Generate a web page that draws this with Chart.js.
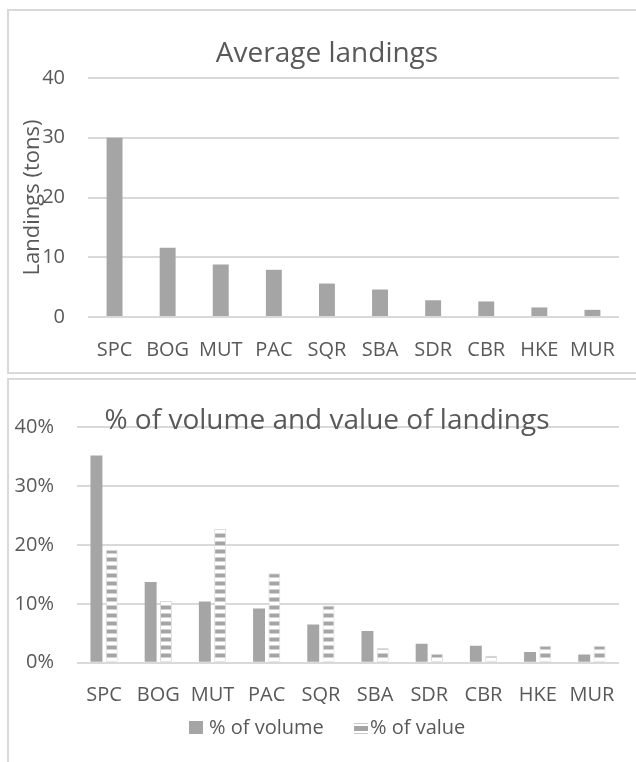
<!DOCTYPE html>
<html>
<head>
<meta charset="utf-8">
<script src="https://cdn.jsdelivr.net/npm/chart.js@4.4.1/dist/chart.umd.min.js"></script>
<style>
html,body{margin:0;padding:0;width:636px;height:762px;overflow:hidden;background:#fff;font-family:"Open Sans",sans-serif;}
.frame{position:absolute;box-sizing:border-box;border-left:2px solid #d9d9d9;border-top:2px solid #d9d9d9;}
#f1{left:7px;top:9px;width:660px;height:365px;border-bottom:2px solid #d9d9d9;}
#f2{left:7px;top:378px;width:660px;height:420px;}
canvas{position:absolute;left:0;}
#c1{top:0;}
#c2{top:372px;}
.lg{position:absolute;color:#595959;font:20px/28px "Open Sans";white-space:nowrap;}
.sw{position:absolute;}
#sw1{left:189px;top:721px;width:14px;height:13px;background:#a5a5a5;}
#sw2{left:354px;top:722px;width:14px;height:13px;
 background:linear-gradient(to bottom,#fff 0,#fff 1px,#c8c8c8 1px,#c8c8c8 2.5px,#fff 2.5px,#fff 4.5px,#a5a5a5 4.5px,#a5a5a5 9.5px,#fff 9.5px,#fff 11px,#c8c8c8 11px,#c8c8c8 12.5px,#fff 12.5px);}
#lt1{left:209px;top:713px;}
#lt2{left:370px;top:713px;}
</style>
</head>
<body>
<div class="frame" id="f1"></div>
<div class="frame" id="f2"></div>
<canvas id="c1" width="654" height="372"></canvas>
<canvas id="c2" width="654" height="390"></canvas>
<div class="sw" id="sw1"></div><div class="lg" id="lt1"></div>
<div class="sw" id="sw2"></div><div class="lg" id="lt2"></div>
<script>
// ---- data ----
const categories = ['SPC','BOG','MUT','PAC','SQR','SBA','SDR','CBR','HKE','MUR'];
const avgLandings = [30.0, 11.6, 8.8, 7.9, 5.6, 4.6, 2.8, 2.6, 1.6, 1.2];
const pctVolume = [35.2, 13.7, 10.4, 9.2, 6.5, 5.4, 3.2, 2.9, 1.8, 1.4];
const pctValue = [19.2, 10.5, 22.7, 15.2, 9.7, 2.5, 1.5, 1.2, 2.9, 2.9];
const landingsTicks = [0, 10, 20, 30, 40];
const pctTicks = [0, 10, 20, 30, 40];
const seriesNames = ['% of volume', '% of value'];
const title1 = 'Average landings';
const title2 = '% of volume and value of landings';
const yTitle1 = 'Landings (tons)';

const TXT = '#595959', GRID = '#d9d9d9', BAR = '#a5a5a5';
const FONT = 'Open Sans';

document.getElementById('lt1').textContent = seriesNames[0];
document.getElementById('lt2').textContent = seriesNames[1];

const fixedTitle = {
  id: 'fixedTitle',
  afterDraw(chart, args, o) {
    const ctx = chart.ctx;
    ctx.save();
    ctx.font = o.font;
    ctx.fillStyle = o.color;
    ctx.textAlign = 'center';
    ctx.textBaseline = 'alphabetic';
    ctx.fillText(o.text, o.x, o.y);
    ctx.restore();
  }
};

function stripePattern(ctx) {
  const c = document.createElement('canvas');
  c.width = 8; c.height = 8;
  const g = c.getContext('2d');
  g.fillStyle = '#fff'; g.fillRect(0, 0, 8, 8);
  g.fillStyle = BAR; g.fillRect(0, 1.5, 8, 4);
  return ctx.createPattern(c, 'repeat');
}

const tickFont = {family: FONT, size: 20};

// ---- chart 1 ----
new Chart(document.getElementById('c1'), {
  type: 'bar',
  data: {
    labels: categories,
    datasets: [{label: title1, data: avgLandings, backgroundColor: BAR, barPercentage: 0.3, categoryPercentage: 1}]
  },
  options: {
    responsive: false, animation: false,
    layout: {padding: {top: 78, left: 0, right: 0, bottom: 0}},
    plugins: {
      legend: {display: false}, tooltip: {enabled: false},
      fixedTitle: {text: title1, x: 327, y: 61.5, font: '28px "Open Sans"', color: TXT}
    },
    scales: {
      x: {
        grid: {display: false}, border: {display: false},
        ticks: {color: TXT, font: tickFont, padding: 13, maxRotation: 0, autoSkip: false},
        afterFit(s) { s.height = 55; }
      },
      y: {
        min: 0, max: 40,
        afterBuildTicks(s) { s.ticks = landingsTicks.map(v => ({value: v})); },
        ticks: {color: TXT, font: tickFont, padding: 23},
        grid: {color: GRID, lineWidth: 2, drawTicks: false},
        border: {display: false},
        title: {display: true, text: yTitle1, color: TXT, font: {family: FONT, size: 22}, padding: {top: 20, bottom: 0}},
        afterFit(s) { s.width = 88; }
      },
      r: {
        position: 'right', grid: {display: false}, ticks: {display: false}, border: {display: false},
        afterFit(s) { s.width = 35; }
      }
    }
  },
  plugins: [fixedTitle]
});

// ---- chart 2 ----
const c2 = document.getElementById('c2');
const pat = stripePattern(c2.getContext('2d'));
new Chart(c2, {
  type: 'bar',
  data: {
    labels: categories,
    datasets: [
      {label: seriesNames[0], data: pctVolume, backgroundColor: BAR, barPercentage: 0.78, categoryPercentage: 0.565},
      {label: seriesNames[1], data: pctValue, backgroundColor: pat, borderColor: '#dcdcdc', borderWidth: 1, barPercentage: 0.78, categoryPercentage: 0.565}
    ]
  },
  options: {
    responsive: false, animation: false,
    layout: {padding: {top: 55.3, left: 0, right: 0, bottom: 0}},
    plugins: {
      legend: {display: false}, tooltip: {enabled: false},
      fixedTitle: {text: title2, x: 327, y: 57.3, font: '28px "Open Sans"', color: TXT}
    },
    scales: {
      x: {
        grid: {display: false}, border: {display: false},
        ticks: {color: TXT, font: tickFont, padding: 13, maxRotation: 0, autoSkip: false},
        afterFit(s) { s.height = 99.3; }
      },
      y: {
        min: 0, max: 40,
        afterBuildTicks(s) { s.ticks = pctTicks.map(v => ({value: v})); },
        ticks: {color: TXT, font: tickFont, padding: 23, callback: v => v + '%'},
        grid: {color: GRID, lineWidth: 2, drawTicks: false},
        border: {display: false},
        afterFit(s) { s.width = 77; }
      },
      r: {
        position: 'right', grid: {display: false}, ticks: {display: false}, border: {display: false},
        afterFit(s) { s.width = 35; }
      }
    }
  },
  plugins: [fixedTitle]
});
</script>
</body>
</html>
